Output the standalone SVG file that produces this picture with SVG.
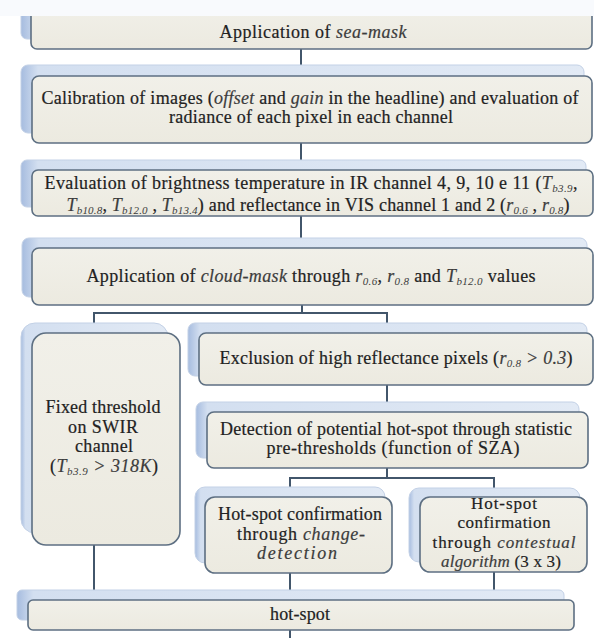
<svg xmlns="http://www.w3.org/2000/svg" width="594" height="638" viewBox="0 0 594 638">
<defs>
<linearGradient id="back" x1="0" y1="0" x2="1" y2="0">
<stop offset="0" stop-color="#a6bcdf"/>
<stop offset="0.03" stop-color="#d3dff0"/>
<stop offset="1" stop-color="#e2eaf5"/>
</linearGradient>
<linearGradient id="front" x1="0" y1="0" x2="0" y2="1">
<stop offset="0" stop-color="#f1f0e9"/>
<stop offset="1" stop-color="#eceae0"/>
</linearGradient>
</defs>
<style>
.back{fill:url(#back);stroke:#c3d1e6;stroke-width:1}
.front{fill:url(#front);stroke:#5d6f82;stroke-width:1.6}
.t{font-family:'Liberation Serif','DejaVu Serif',serif;font-size:18px;fill:#222222;stroke:#222222;stroke-width:0.2;text-anchor:middle}
.sm{font-size:17px}
.i{font-style:italic;fill:#3c3c3c;stroke:#3c3c3c}
.s{font-size:11px;font-style:italic;fill:#3c3c3c;stroke:none}
.c{fill:none;stroke:#42566b;stroke-width:2}
</style>
<rect x="0" y="0" width="594" height="638" fill="#ffffff"/>
<g id="connectors">
<path class="c" d="M301 49V65"/>
<path class="c" d="M301 143V160"/>
<path class="c" d="M301 216V238"/>
<path class="c" d="M302 305V313M94 323V313H387V323"/>
<path class="c" d="M387 385V402"/>
<path class="c" d="M387 468V478M290 488V478H494V488"/>
<path class="c" d="M94 545V590"/>
<path class="c" d="M290 573V590"/>
<path class="c" d="M494 572V590"/>
<path class="c" d="M290 630V638"/>
</g>
<g id="n1">
<rect class="back" x="21" y="-6" width="555" height="45" rx="6"/>
<rect class="front" x="31" y="4" width="561" height="45" rx="6"/>
<text class="t" x="313" y="38" textLength="187">Application of <tspan class="i">sea-mask</tspan></text>
</g>
<rect x="0" y="0" width="594" height="16" fill="#f8fafd"/>
<g id="n2">
<rect class="back" x="21" y="65" width="563" height="68" rx="7"/>
<rect class="front" x="32" y="76" width="560" height="67" rx="7"/>
<text class="t" x="310" y="104" textLength="537">Calibration of images (<tspan class="i">offset</tspan> and <tspan class="i">gain</tspan> in the headline) and evaluation of</text>
<text class="t" x="311" y="123" textLength="284">radiance of each pixel in each channel</text>
</g>
<g id="n3">
<rect class="back" x="21" y="160" width="565" height="47" rx="6"/>
<rect class="front" x="32" y="170" width="561" height="46" rx="6"/>
<text class="t" x="311" y="189" textLength="533">Evaluation of brightness temperature in IR channel 4, 9, 10 e 11 (<tspan class="i">T</tspan><tspan class="s" dy="3">b3.9</tspan><tspan dy="-3">,</tspan></text>
<text class="t" x="318" y="211" textLength="503"><tspan class="i">T</tspan><tspan class="s" dy="3">b10.8</tspan><tspan dy="-3">, </tspan><tspan class="i">T</tspan><tspan class="s" dy="3">b12.0</tspan><tspan dy="-3"> , </tspan><tspan class="i">T</tspan><tspan class="s" dy="3">b13.4</tspan><tspan dy="-3">) and reflectance in VIS channel 1 and 2 (</tspan><tspan class="i">r</tspan><tspan class="s" dy="3">0.6</tspan><tspan dy="-3"> , </tspan><tspan class="i">r</tspan><tspan class="s" dy="3">0.8</tspan><tspan dy="-3">)</tspan></text>
</g>
<g id="n4">
<rect class="back" x="22" y="238" width="565" height="59" rx="7"/>
<rect class="front" x="32" y="248" width="561" height="57" rx="7"/>
<text class="t" x="311" y="282" textLength="449">Application of <tspan class="i">cloud-mask</tspan> through <tspan class="i">r</tspan><tspan class="s" dy="3">0.6</tspan><tspan dy="-3">, </tspan><tspan class="i">r</tspan><tspan class="s" dy="3">0.8</tspan><tspan dy="-3"> and </tspan><tspan class="i">T</tspan><tspan class="s" dy="3">b12.0</tspan><tspan dy="-3"> values</tspan></text>
</g>
<g id="n5">
<rect class="back" x="21" y="323" width="147" height="210" rx="14"/>
<rect class="front" x="32" y="333" width="148" height="212" rx="14"/>
<text class="t" x="103" y="413" textLength="115">Fixed threshold</text>
<text class="t" x="103" y="433" textLength="70">on SWIR</text>
<text class="t" x="104" y="452" textLength="58">channel</text>
<text class="t" x="104" y="472" textLength="108">(<tspan class="i">T</tspan><tspan class="s" dy="3">b3.9</tspan><tspan class="i" dy="-3"> &gt; 318K</tspan>)</text>
</g>
<g id="n6">
<rect class="back" x="188" y="323" width="399" height="53" rx="7"/>
<rect class="front" x="199" y="333" width="394" height="52" rx="7"/>
<text class="t" x="396" y="364" textLength="353">Exclusion of high reflectance pixels (<tspan class="i">r</tspan><tspan class="s" dy="3">0.8</tspan><tspan class="i" dy="-3"> &gt; 0.3</tspan>)</text>
</g>
<g id="n7">
<rect class="back" x="196" y="402" width="383" height="56" rx="7"/>
<rect class="front" x="207" y="412" width="381" height="56" rx="7"/>
<text class="t" x="396" y="435" textLength="352">Detection of potential hot-spot through statistic</text>
<text class="t" x="393" y="454" textLength="253">pre-thresholds (function of SZA)</text>
</g>
<g id="n8">
<rect class="back" x="195" y="487" width="190" height="76" rx="10"/>
<rect class="front" x="205" y="497" width="187" height="76" rx="10"/>
<text class="t" x="300" y="520" textLength="164">Hot-spot confirmation</text>
<text class="t" x="301" y="540" textLength="128">through <tspan class="i">change-</tspan></text>
<text class="t" x="297" y="559" textLength="80"><tspan class="i">detection</tspan></text>
</g>
<g id="n9">
<rect class="back" x="409" y="488" width="171" height="74" rx="10"/>
<rect class="front" x="420" y="497" width="167" height="75" rx="10"/>
<text class="t sm" x="504" y="509" textLength="66">Hot-spot</text>
<text class="t sm" x="504" y="528" textLength="93">confirmation</text>
<text class="t sm" x="504" y="548" textLength="143">through <tspan class="i">contestual</tspan></text>
<text class="t sm" x="501" y="567" textLength="120"><tspan class="i">algorithm</tspan> (3 x 3)</text>
</g>
<g id="n10">
<rect class="back" x="17" y="590" width="547" height="30" rx="5"/>
<rect class="front" x="28" y="600" width="546" height="30" rx="5"/>
<text class="t" x="300" y="620" textLength="60">hot-spot</text>
</g>
</svg>
